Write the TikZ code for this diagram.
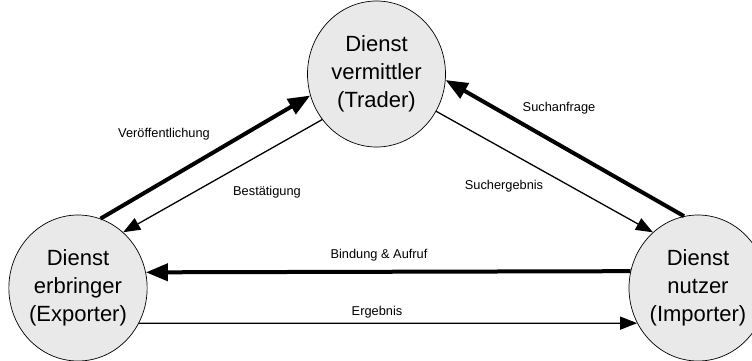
\documentclass[tikz,border=0pt]{standalone}
\usepackage{fontspec}
\setmainfont{Liberation Sans}
\usepackage{tikz}
\usetikzlibrary{positioning,shapes.geometric,arrows.meta}

\definecolor{partyfill}{HTML}{E9E9E9}

\begin{document}
\begin{tikzpicture}[
    x=1pt, y=1pt,
    party/.style={ellipse, draw, line width=0.7pt, fill=partyfill, minimum width=138pt, minimum height=146pt, inner sep=0pt, align=center, font=\fontsize{22}{28}\selectfont},
    callarrow/.style={draw, line width=4pt, -{Triangle[length=22pt, width=17pt]}},
    replyarrow/.style={draw, line width=1.3pt, -{Triangle[length=17pt, width=13pt]}},
    note/.style={inner sep=1pt, font=\fontsize{12.8}{15}\selectfont}
]
\useasboundingbox (0,0) rectangle (752,-360);

% Define node positions
\node[party] (trd) at (376.5, -74) {Dienst\\vermittler\\(Trader)};
\node[party] (exp) at (78, -288) {Dienst\\erbringer\\(Exporter)};
\node[party] (imp) at (698, -288) {Dienst\\nutzer\\(Importer)};

% Exporter <-> Trader
\draw[callarrow] (exp.72) -- (trd.198);
\draw[replyarrow] (trd.220) -- (exp.51);

% Importer <-> Trader
\draw[callarrow] (imp.101) -- (trd.355);
\draw[replyarrow] (trd.328) -- (imp.129);

% Importer <-> Exporter
\draw[callarrow] (imp.166.7) -- (exp.13.3);
\draw[replyarrow] (exp.-30) -- (imp.210);

% Message labels
\node[note] (lpub) at (164, -134) {Veröffentlichung};
\node[note] (lack) at (267, -192) {Bestätigung};
\node[note] (lreq) at (559, -108) {Suchanfrage};
\node[note] (lres) at (504, -186) {Suchergebnis};
\node[note] (lbind) at (379, -255) {Bindung \& Aufruf};
\node[note] (lout) at (377, -312) {Ergebnis};

\end{tikzpicture}
\end{document}
